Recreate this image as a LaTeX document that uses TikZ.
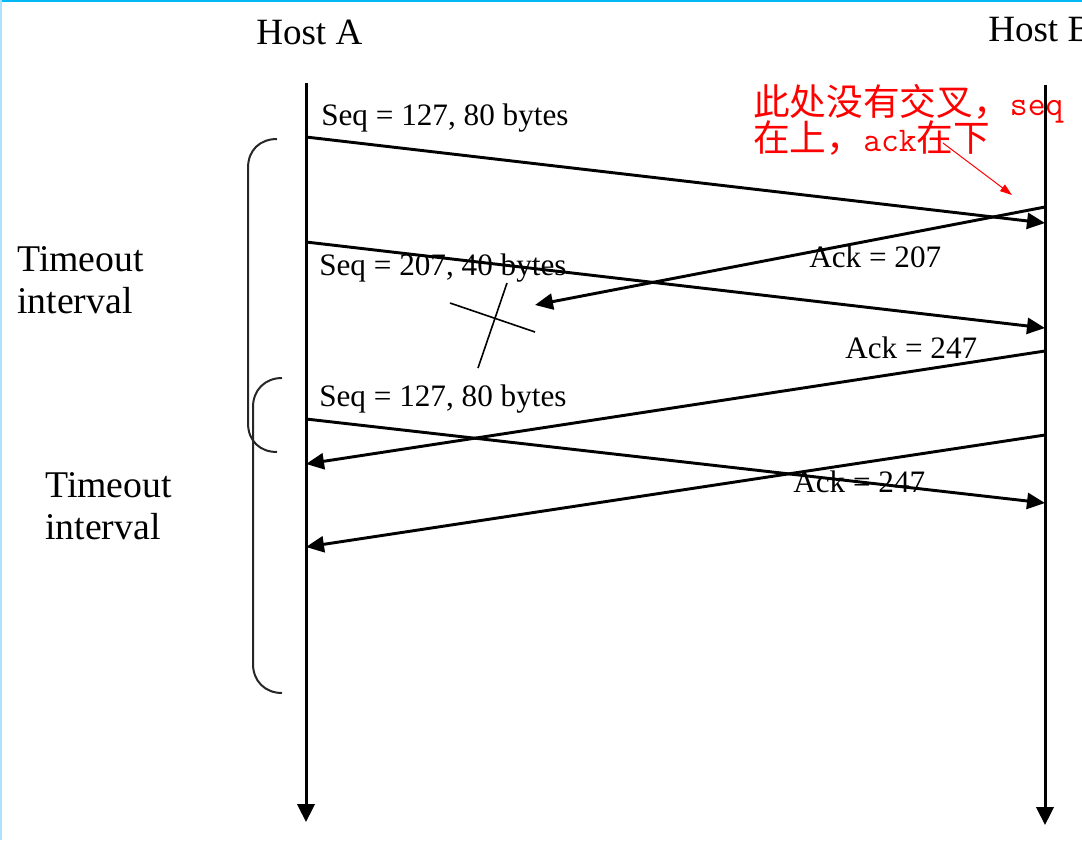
\documentclass[tikz,border=0pt]{standalone}
\usepackage{fontspec}
\setmainfont{Liberation Serif}
\newfontfamily\cjk{Noto Sans CJK SC}
\newcommand\notemonotext[1]{{\fontsize{26}{30}\ttfamily #1}}
\usetikzlibrary{arrows.meta}
\definecolor{selblue}{RGB}{0,185,245}
\definecolor{selleft}{RGB}{175,225,255}
\begin{document}
\begin{tikzpicture}[x=0.75pt,y=-0.75pt,
  life/.style={line width=2.25pt,-{Triangle[length=13.5pt,width=13pt]}},
  msg/.style={line width=2.2pt,-{Triangle[length=13.5pt,width=12pt]}},
  lbl/.style={inner sep=0pt,anchor=base west,font=\fontsize{23.4}{28}\selectfont},
  host/.style={inner sep=0pt,anchor=base west,font=\fontsize{27.8}{33}\selectfont},
  tmo/.style={inner sep=0pt,anchor=base west,font=\fontsize{28.3}{34}\selectfont},
  bracket/.style={line width=1.5pt,draw=black!85},
  note/.style={inner sep=0pt,anchor=base west,text=red,font=\fontsize{27.5}{33}\cjk},
  crossline/.style={line width=1.2pt},
]
\useasboundingbox (0,0) rectangle (1082,840);
\clip (0,0) rectangle (1082,840);
% selection frame of the screenshot
\draw[selblue,line width=1.5pt] (0,0.8) -- (1082,0.8);
\draw[selleft,line width=1.5pt] (1,0) -- (1,840);

% hosts
\node[host] (hostA) at (256,44) {Host A};
\node[host] (hostB) at (988,41) {Host B};

% lifelines
\coordinate (Atop) at (306,83);
\coordinate (Abot) at (306,822);
\coordinate (Btop) at (1045,85);
\coordinate (Bbot) at (1045,825);
\draw[life] (Atop) -- (Abot);
\draw[life] (Btop) -- (Bbot);

% message end points
\coordinate (m1s) at (306,137);  \coordinate (m1e) at (1045,223);
\coordinate (m2s) at (1045,207); \coordinate (m2e) at (535,305);
\coordinate (m3s) at (306,242);  \coordinate (m3e) at (1045,328);
\coordinate (m4s) at (1045,351); \coordinate (m4e) at (306,464);
\coordinate (m5s) at (306,419);  \coordinate (m5e) at (1045,503);
\coordinate (m6s) at (1045,435); \coordinate (m6e) at (306,547);

\draw[msg] (m1s) -- (m1e);
\draw[msg] (m2s) -- (m2e);
\draw[msg] (m3s) -- (m3e);
\draw[msg] (m4s) -- (m4e);
\draw[msg] (m5s) -- (m5e);
\draw[msg] (m6s) -- (m6e);

% labels
\node[lbl] (l1) at (321,125) {Seq = 127, 80 bytes};
\node[lbl] (l2) at (809,267) {Ack = 207};
\node[lbl] (l3) at (319,275) {Seq = 207, 40 bytes};
\node[lbl] (l4) at (845,358) {Ack = 247};
\node[lbl] (l5) at (319,406) {Seq = 127, 80 bytes};
\node[lbl] (l6) at (793,492) {Ack = 247};

% lost segment cross
\draw[crossline] (450,303) -- (535,332);
\draw[crossline] (507,283) -- (478,368);

% timeout brackets
\draw[bracket] (277,139) .. controls (260,139) and (248,150) .. (248,168)
  -- (248,423) .. controls (248,441) and (260,452) .. (277,452);
\draw[bracket] (282,378) .. controls (265,378) and (253,390) .. (253,407)
  -- (253,664) .. controls (253,681) and (265,693) .. (282,693);

\node[tmo] (t1a) at (17,271) {Timeout};
\node[tmo] (t1b) at (17,313) {interval};
\node[tmo] (t2a) at (45,497) {Timeout};
\node[tmo] (t2b) at (45,539) {interval};

% red note
\node[note] (n1) at (753,115) {此处没有交叉，\notemonotext{seq}};
\node[note] (n2) at (753,151) {在上，\notemonotext{ack}在下};
\coordinate (nArrS) at (943,143);
\coordinate (nArrE) at (1012,195);
\draw[red,line width=0.75pt,-{Triangle[length=9pt,width=6pt]}] (nArrS) -- (nArrE);
\end{tikzpicture}
\end{document}
